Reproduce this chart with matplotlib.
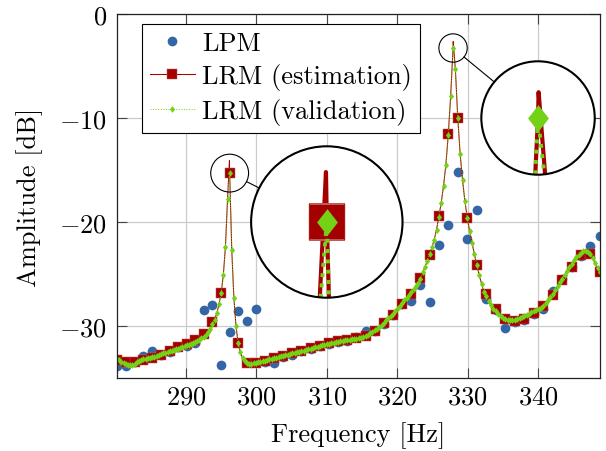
import numpy as np
import matplotlib.pyplot as plt
from matplotlib.lines import Line2D
from matplotlib.patches import Circle, Ellipse

plt.rcParams['font.family'] = 'serif'
plt.rcParams['font.serif'] = ['cmr10']
plt.rcParams['mathtext.fontset'] = 'cm'
plt.rcParams['axes.formatter.use_mathtext'] = True
plt.rcParams['font.size'] = 19

blue = '#3465a4'
red = '#a40000'
green = '#73d216'

# LPM / estimation frequencies [Hz]
f_lpm = [280.2, 281.45, 282.7, 283.95, 285.2, 286.45, 287.7, 288.9, 290.1, 291.3,
         292.5, 293.75, 295.0, 296.2, 297.4, 298.65, 299.95, 301.2, 302.5, 303.8,
         305.1, 306.4, 307.7, 309.0, 310.3, 311.6, 312.9, 314.2, 315.5, 316.8,
         318.1, 319.4, 320.7, 322.0, 323.3, 324.6, 325.9, 327.25, 328.6, 329.95,
         331.3, 332.65, 334.0, 335.35, 336.7, 338.05, 339.4, 340.75, 342.1, 343.45,
         344.8, 346.1, 347.45, 348.8]

# LPM amplitude [dB]
a_lpm = [-33.85, -33.8, -33.45, -32.9, -32.45, -32.75, -32.5, -32.05, -31.9, -31.6,
         -28.5, -28.0, -33.75, -30.6, -28.6, -29.5, -28.4, -33.45, -33.6, -33.0,
         -32.75, -32.45, -32.25, -31.95, -31.75, -31.55, -31.45, -31.1, -30.45, -30.5,
         -29.8, -28.9, -27.9, -27.6, -26.1, -27.7, -22.2, -20.3, -15.2, -21.6,
         -18.8, -27.45, -28.5, -30.2, -29.6, -29.4, -28.85, -28.4, -26.6, -25.5,
         -24.3, -23.3, -22.3, -21.3]

# LRM (estimation) at the estimation frequencies
a_est = [-33.3, -33.45, -33.5, -33.25, -33.05, -32.8, -32.4, -32.05, -31.7, -31.3,
         -30.8, -29.65, -26.8, -15.3, -31.6, -33.6, -33.6, -33.35, -33.1, -32.85,
         -32.6, -32.42, -32.15, -31.9, -31.68, -31.48, -31.33, -31.2, -31.0, -30.5,
         -29.75, -28.9, -27.9, -26.9, -25.4, -23.15, -19.45, -11.5, -10.0, -19.6,
         -24.15, -26.95, -28.4, -29.3, -29.5, -29.3, -28.75, -28.1, -27.0, -25.6,
         -24.3, -23.15, -23.05, -24.8]

# LRM (validation) frequencies [Hz]
f_val = [280.2, 280.51, 280.83, 281.14, 281.45, 281.76, 282.08, 282.39,
         282.7, 283.01, 283.33, 283.64, 283.95, 284.26, 284.58, 284.89,
         285.2, 285.51, 285.83, 286.14, 286.45, 286.76, 287.08, 287.39,
         287.7, 288.0, 288.3, 288.6, 288.9, 289.2, 289.5, 289.8,
         290.1, 290.4, 290.7, 291.0, 291.3, 291.6, 291.9, 292.2,
         292.5, 292.81, 293.13, 293.44, 293.75, 294.06, 294.38, 294.69,
         295.0, 295.3, 295.6, 295.9, 296.2, 296.5, 296.8, 297.1,
         297.4, 297.71, 298.03, 298.34, 298.65, 298.98, 299.3, 299.63,
         299.95, 300.26, 300.58, 300.89, 301.2, 301.53, 301.85, 302.18,
         302.5, 302.83, 303.15, 303.48, 303.8, 304.13, 304.45, 304.78,
         305.1, 305.43, 305.75, 306.08, 306.4, 306.73, 307.05, 307.38,
         307.7, 308.03, 308.35, 308.68, 309.0, 309.33, 309.65, 309.98,
         310.3, 310.63, 310.95, 311.28, 311.6, 311.93, 312.25, 312.58,
         312.9, 313.23, 313.55, 313.88, 314.2, 314.53, 314.85, 315.18,
         315.5, 315.83, 316.15, 316.48, 316.8, 317.13, 317.45, 317.78,
         318.1, 318.43, 318.75, 319.08, 319.4, 319.73, 320.05, 320.38,
         320.7, 321.03, 321.35, 321.68, 322.0, 322.33, 322.65, 322.98,
         323.3, 323.63, 323.95, 324.28, 324.6, 324.93, 325.25, 325.58,
         325.9, 326.24, 326.58, 326.91, 327.25, 327.59, 327.93, 328.26,
         328.6, 328.94, 329.28, 329.61, 329.95, 330.29, 330.63, 330.96,
         331.3, 331.64, 331.98, 332.31, 332.65, 332.99, 333.33, 333.66,
         334.0, 334.34, 334.68, 335.01, 335.35, 335.69, 336.03, 336.36,
         336.7, 337.04, 337.38, 337.71, 338.05, 338.39, 338.73, 339.06,
         339.4, 339.74, 340.08, 340.41, 340.75, 341.09, 341.43, 341.76,
         342.1, 342.44, 342.78, 343.11, 343.45, 343.79, 344.13, 344.46,
         344.8, 345.13, 345.45, 345.78, 346.1, 346.44, 346.78, 347.11,
         347.45, 347.79, 348.13, 348.46, 348.8]

a_val = [-33.15, -33.3, -33.45, -33.55, -33.65, -33.72, -33.75, -33.72,
         -33.62, -33.5, -33.38, -33.3, -33.22, -33.15, -33.1, -33.05,
         -33.0, -32.95, -32.85, -32.75, -32.7, -32.62, -32.55, -32.5,
         -32.45, -32.4, -32.32, -32.25, -32.17, -32.1, -32.02, -31.95,
         -31.87, -31.8, -31.72, -31.63, -31.53, -31.43, -31.32, -31.18,
         -31.02, -30.82, -30.56, -30.25, -29.85, -29.38, -28.75, -27.9,
         -26.8, -25.1, -22.4, -17.8, -15.3, -22.7, -27.3, -30.0,
         -31.6, -32.5, -33.1, -33.4, -33.55, -33.62, -33.63, -33.6,
         -33.55, -33.5, -33.45, -33.4, -33.35, -33.3, -33.22, -33.15,
         -33.1, -33.04, -32.98, -32.92, -32.86, -32.8, -32.75, -32.7,
         -32.64, -32.59, -32.54, -32.49, -32.43, -32.37, -32.3, -32.24,
         -32.17, -32.1, -32.04, -31.98, -31.92, -31.86, -31.8, -31.74,
         -31.69, -31.64, -31.59, -31.54, -31.5, -31.45, -31.41, -31.38,
         -31.35, -31.32, -31.29, -31.26, -31.22, -31.17, -31.12, -31.04,
         -30.95, -30.84, -30.72, -30.58, -30.43, -30.25, -30.06, -29.87,
         -29.67, -29.46, -29.25, -29.03, -28.8, -28.56, -28.31, -28.06,
         -27.8, -27.54, -27.27, -27.0, -26.72, -26.45, -26.18, -25.85,
         -25.45, -24.85, -24.3, -23.72, -23.12, -22.45, -21.7, -20.75,
         -19.5, -18.2, -16.5, -14.5, -11.6, -7.9, -3.27, -5.3,
         -10.0, -13.5, -16.0, -18.0, -19.6, -20.9, -22.0, -23.1,
         -24.1, -25.1, -25.95, -26.7, -27.1, -27.6, -28.0, -28.35,
         -28.6, -28.85, -29.05, -29.2, -29.32, -29.4, -29.42, -29.42,
         -29.4, -29.35, -29.25, -29.15, -29.05, -28.92, -28.8, -28.7,
         -28.6, -28.5, -28.4, -28.25, -28.05, -27.8, -27.5, -27.2,
         -26.95, -26.55, -26.15, -25.8, -25.45, -25.05, -24.7, -24.35,
         -24.0, -23.7, -23.4, -23.15, -22.95, -22.8, -22.75, -22.85,
         -23.1, -23.5, -23.95, -24.4, -24.8]

# resonance tips of the estimated model
f_tip = [296.17, 327.95]
a_tip = [-14.1, -2.65]

xticks = [290, 300, 310, 320, 330, 340]
yticks = [0, -10, -20, -30]

# red line goes through the dense grid plus the tips
f_red = np.array(f_val + f_tip)
a_red = np.array(a_val + a_tip)
order = np.argsort(f_red)
f_red = f_red[order]
a_red = a_red[order]

diamond = [(0, 1), (0.78, 0), (0, -1), (-0.78, 0), (0, 1)]


def draw(a, k=1.0, clip=None):
    arts = []
    arts += a.plot(f_lpm, a_lpm, ls='none', marker='o', ms=7 * k, color=blue, mew=0)
    arts += a.plot(f_red, a_red, color=red, lw=0.75 * k)
    arts += a.plot(f_lpm, a_est, ls='none', marker='s', ms=6.5 * k, mfc=red,
                   mec='#c05a5a', mew=0.35)
    arts += a.plot(f_val, a_val, ls=':', lw=0.7 * k, color=green, marker=diamond,
                   ms=4.8 * k, mfc=green, mec=green, mew=0)
    if clip is not None:
        for ar in arts:
            ar.set_clip_path(clip)
    return arts


W, H = 606, 452
fig = plt.figure(figsize=(W / 100, H / 100), dpi=100)
ax = fig.add_axes([117 / W, 1 - 379 / H, 483 / W, 364 / H])

draw(ax)

ax.set_xlim(280.2, 348.8)
ax.set_ylim(-35, 0)
ax.set_xticks(xticks)
ax.set_yticks(yticks)
ax.grid(True, color='#cbcbcb', lw=0.9)
ax.set_axisbelow(True)
ax.tick_params(direction='in', length=7, width=0.8, color='#444444',
               top=True, right=True, labelsize=19)
ax.tick_params(axis='x', pad=5)
ax.tick_params(axis='y', pad=7)
for s in ax.spines.values():
    s.set_linewidth(0.9)
    s.set_color('#222222')
ax.set_xlabel('Frequency [Hz]', fontsize=19, labelpad=9)
ax.set_ylabel('Amplitude [dB]', fontsize=19, labelpad=12)

handles = [Line2D([], [], ls='none', marker='o', ms=7, color=blue, mew=0),
           Line2D([], [], color=red, lw=0.75, marker='s', ms=6.5, mec='#c05a5a', mew=0.35),
           Line2D([], [], color=green, ls=':', lw=0.7, marker=diamond, ms=4.8, mew=0)]
leg = ax.legend(handles, ['LPM', 'LRM (estimation)', 'LRM (validation)'],
                loc='upper left', bbox_to_anchor=(0.052, 0.973), borderaxespad=0,
                fontsize=19, numpoints=1, handlelength=1.7, handletextpad=0.27,
                borderpad=0.3, labelspacing=0.3, fancybox=False, framealpha=1,
                edgecolor='black')
leg.get_frame().set_linewidth(0.8)

# spy circles (magnification 4)
mag = 4.0
fig.canvas.draw()
px_hz = ax.transData.transform((1, 0))[0] - ax.transData.transform((0, 0))[0]
px_db = ax.transData.transform((0, 1))[1] - ax.transData.transform((0, 0))[1]

for src, dst, r in [((296.2, -15.3), (310, -20), 75.7),
                    ((327.93, -3.27), (340, -10), 56.7)]:
    ps = ax.transData.transform(src)
    pd = ax.transData.transform(dst)
    ins = fig.add_axes([(pd[0] - r) / W, (pd[1] - r) / H, 2 * r / W, 2 * r / H])
    ins.set_xlim(src[0] - r / (mag * px_hz), src[0] + r / (mag * px_hz))
    ins.set_ylim(src[1] - r / (mag * px_db), src[1] + r / (mag * px_db))
    ins.axis('off')
    bg = Circle((0.5, 0.5), 0.5, transform=ins.transAxes, fc='white', ec='none', zorder=0)
    ins.add_patch(bg)
    draw(ins, mag, clip=bg)
    ins.add_patch(Circle((0.5, 0.5), 0.5, transform=ins.transAxes, fc='none',
                         ec='black', lw=1.5, clip_on=False, zorder=10))
    rs = r / mag
    fig.add_artist(Ellipse((ps[0] / W, ps[1] / H), 2 * rs / W, 2 * rs / H,
                           transform=fig.transFigure, fc='none', ec='black', lw=0.8))
    d = (pd - ps) / np.hypot(*(pd - ps))
    p1 = ps + d * rs
    p2 = pd - d * r
    fig.add_artist(Line2D([p1[0] / W, p2[0] / W], [p1[1] / H, p2[1] / H],
                          transform=fig.transFigure, color='black', lw=0.8))

fig.savefig('out.png', dpi=100)
